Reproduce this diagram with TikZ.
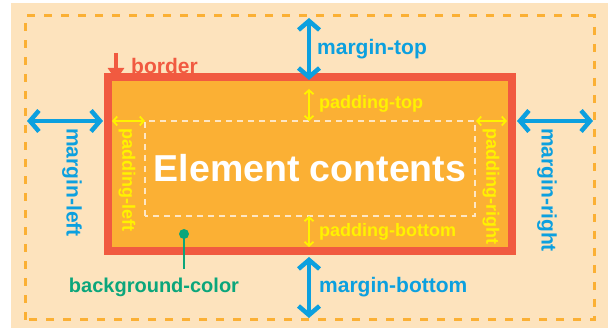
\documentclass[tikz,border=0pt]{standalone}
\usepackage{fontspec}
\setmainfont{Liberation Sans}
\usepackage{xcolor}
\usetikzlibrary{arrows.meta, positioning, calc}

\definecolor{boxbeige}{HTML}{FDE3BD}
\definecolor{boxorange}{HTML}{FBB034}
\definecolor{boxred}{HTML}{F15A40}
\definecolor{boxblue}{HTML}{0CA0DF}
\definecolor{boxyellow}{HTML}{FFF200}
\definecolor{boxgreen}{HTML}{0BA67B}
\definecolor{boxcream}{HTML}{FDE6C4}

\begin{document}
\begin{tikzpicture}[
            x=1pt, y=1pt,
            font=\bfseries,
            mgn/.style     ={{Straight Barb[length=9pt,width=21pt,line width=4.5pt]}-{Straight Barb[length=9pt,width=21pt,line width=4.5pt]},
                             line width=4pt, draw=boxblue},
            pad/.style     ={{Straight Barb[length=4pt,width=9pt]}-{Straight Barb[length=4pt,width=9pt]},
                             line width=1.8pt, draw=boxyellow},
            mlbl/.style    ={font=\fontsize{21}{24}\selectfont\bfseries, text=boxblue, inner sep=0pt},
            plbl/.style    ={font=\fontsize{18}{21}\selectfont\bfseries, text=boxyellow, inner sep=0pt},
            vlbl/.style    ={rotate=-90, anchor=west}
        ]

        \useasboundingbox (0,0) rectangle (608,328);
        \fill[boxbeige] (11,0) rectangle (608,325);

        % outer margin edge
        \draw[boxorange, line width=3pt, dash pattern=on 8pt off 9pt] (25,8) rectangle (594,312);

        % border box with background
        \draw[boxred, fill=boxorange, line width=8pt] (108,77) rectangle (512,251);

        % content edge
        \draw[boxcream, line width=1.8pt, dash pattern=on 6pt off 5pt] (145,112) rectangle (475,207);
        \node[font=\fontsize{37.5}{42}\selectfont\bfseries, text=white, anchor=base] (content) at (310,146) {Element contents};

        % margins
        \coordinate (mt1) at (309,310);  \coordinate (mt2) at (309,248);
        \coordinate (mb1) at (309,71);   \coordinate (mb2) at (309,10);
        \coordinate (ml1) at (27,207);   \coordinate (ml2) at (103,207);
        \coordinate (mr1) at (517,207);  \coordinate (mr2) at (593,207);
        \draw[mgn] (mt1) -- (mt2);
        \draw[mgn] (mb1) -- (mb2);
        \draw[mgn] (ml1) -- (ml2);
        \draw[mgn] (mr1) -- (mr2);
        \node[mlbl, anchor=west] (mtop)    at (317,279) {margin-top};
        \node[mlbl, anchor=west] (mbottom) at (319,41)  {margin-bottom};
        \node[mlbl, vlbl]        (mleft)   at (72,200)  {margin-left};
        \node[mlbl, vlbl]        (mright)  at (547,200) {margin-right};

        % paddings
        \coordinate (pt1) at (309,239);  \coordinate (pt2) at (309,207);
        \coordinate (pb1) at (309,112);  \coordinate (pb2) at (309,81);
        \coordinate (pl1) at (112,207);  \coordinate (pl2) at (145,207);
        \coordinate (pr1) at (476,207);  \coordinate (pr2) at (507,207);
        \draw[pad] (pt1) -- (pt2);
        \draw[pad] (pb1) -- (pb2);
        \draw[pad] (pl1) -- (pl2);
        \draw[pad] (pr1) -- (pr2);
        \node[plbl, anchor=west] (ptop)    at (319,224) {padding-top};
        \node[plbl, anchor=west] (pbottom) at (319,96)  {padding-bottom};
        \node[plbl, vlbl]        (pleft)   at (127,200) {padding-left};
        \node[plbl, vlbl]        (pright)  at (491,200) {padding-right};

        % border pointer
        \coordinate (bd1) at (116,275);
        \coordinate (bd2) at (116,248);
        \draw[-{Triangle[length=12pt,width=16pt]}, line width=4pt, draw=boxred] (bd1) -- (bd2);
        \node[font=\fontsize{21}{24}\selectfont\bfseries, text=boxred, anchor=west, inner sep=0pt] (border) at (131,262) {border};

        % background pointer
        \coordinate (bg1) at (184,94);
        \coordinate (bg2) at (184,59);
        \draw[boxgreen, line width=2pt] (bg1) -- (bg2);
        \fill[boxgreen] (bg1) circle (5pt);
        \node[font=\fontsize{20}{23}\selectfont\bfseries, text=boxgreen, inner sep=0pt] (bgcol) at (154,41) {background-color};

    \end{tikzpicture}
\end{document}
